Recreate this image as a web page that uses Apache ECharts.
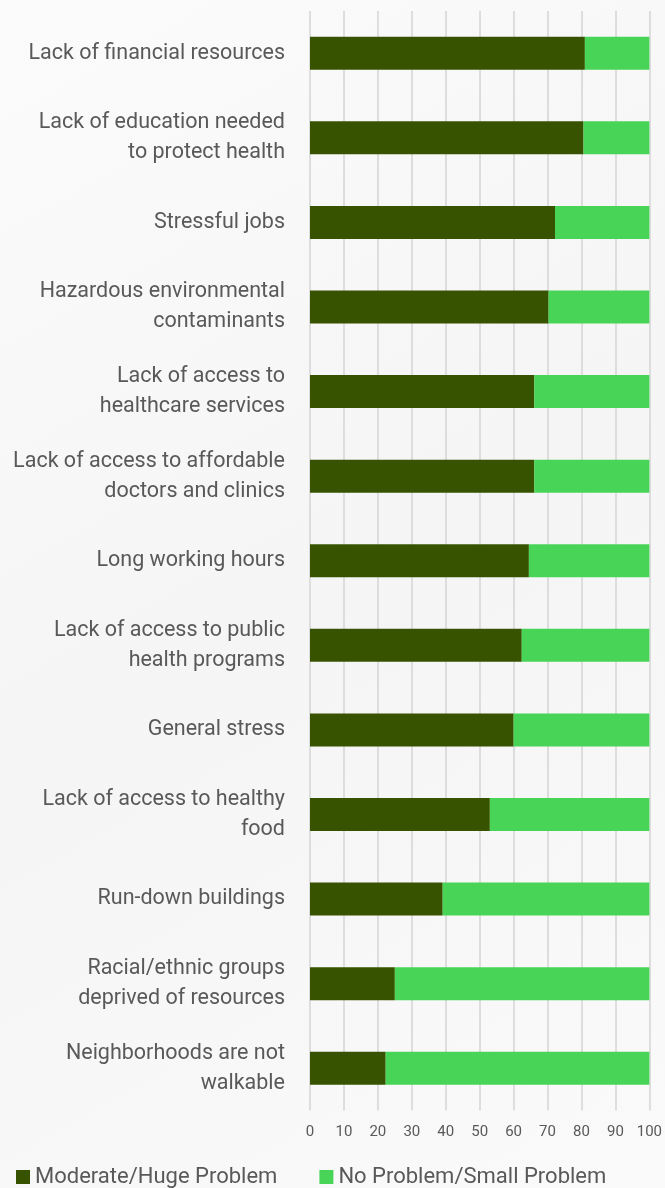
<!DOCTYPE html>
<html>
<head>
<meta charset="utf-8">
<script src="https://cdn.jsdelivr.net/npm/echarts@6/dist/echarts.min.js"></script>
<style>
html,body{margin:0;padding:0;background:#f8f8f8;}
#chart{width:665px;height:1188px;}
</style>
</head>
<body>
<div id="chart"></div>
<script>
const categories = [
  "Lack of financial resources",
  "Lack of education needed\nto protect health",
  "Stressful jobs",
  "Hazardous environmental\ncontaminants",
  "Lack of access to\nhealthcare services",
  "Lack of access to affordable\ndoctors and clinics",
  "Long working hours",
  "Lack of access to public\nhealth programs",
  "General stress",
  "Lack of access to healthy\nfood",
  "Run-down buildings",
  "Racial/ethnic groups\ndeprived of resources",
  "Neighborhoods are not\nwalkable"
];
const moderateHuge = [81.0, 80.6, 72.2, 70.3, 66.1, 66.1, 64.5, 62.4, 60.0, 53.0, 39.1, 25.0, 22.3];
const noSmall = [19.0, 19.4, 27.8, 29.7, 33.9, 33.9, 35.5, 37.6, 40.0, 47.0, 60.9, 75.0, 77.7];
const xTicks = [0, 10, 20, 30, 40, 50, 60, 70, 80, 90, 100];

const chart = echarts.init(document.getElementById('chart'));
const txt = '#595959';
const font = 'Roboto';
chart.setOption({
  backgroundColor: new echarts.graphic.LinearGradient(0, 0, 1, 1, [
    {offset: 0, color: '#fbfbfb'}, {offset: 0.5, color: '#f5f5f5'}, {offset: 1, color: '#fafafa'}
  ]),
  animation: false,
  textStyle: {fontFamily: font},
  grid: {left: 310, right: 15.5, top: 11, bottom: 77.5},
  legend: {
    left: 11, top: 1161,
    itemWidth: 14, itemHeight: 14, itemGap: 42,
    icon: 'rect',
    textStyle: {fontSize: 22, color: txt, fontFamily: font},
    data: ['Moderate/Huge Problem', 'No Problem/Small Problem']
  },
  xAxis: {
    type: 'value', min: 0, max: 100, interval: 10,
    axisLine: {show: false}, axisTick: {show: false},
    splitLine: {show: true, lineStyle: {color: '#d4d4d4', width: 1.5}},
    axisLabel: {fontSize: 15, color: txt, margin: 14,
      formatter: v => xTicks.includes(v) ? String(v) : ''}
  },
  yAxis: {
    type: 'category', data: categories, inverse: true,
    axisLine: {show: false}, axisTick: {show: false},
    axisLabel: {fontSize: 21.5, color: txt, lineHeight: 30, margin: 25, align: 'right'}
  },
  series: [
    {name: 'Moderate/Huge Problem', type: 'bar', stack: 'a', data: moderateHuge,
     barWidth: 33, itemStyle: {color: '#385300'}},
    {name: 'No Problem/Small Problem', type: 'bar', stack: 'a', data: noSmall,
     barWidth: 33, itemStyle: {color: '#48d457'}}
  ]
});
</script>
</body>
</html>
